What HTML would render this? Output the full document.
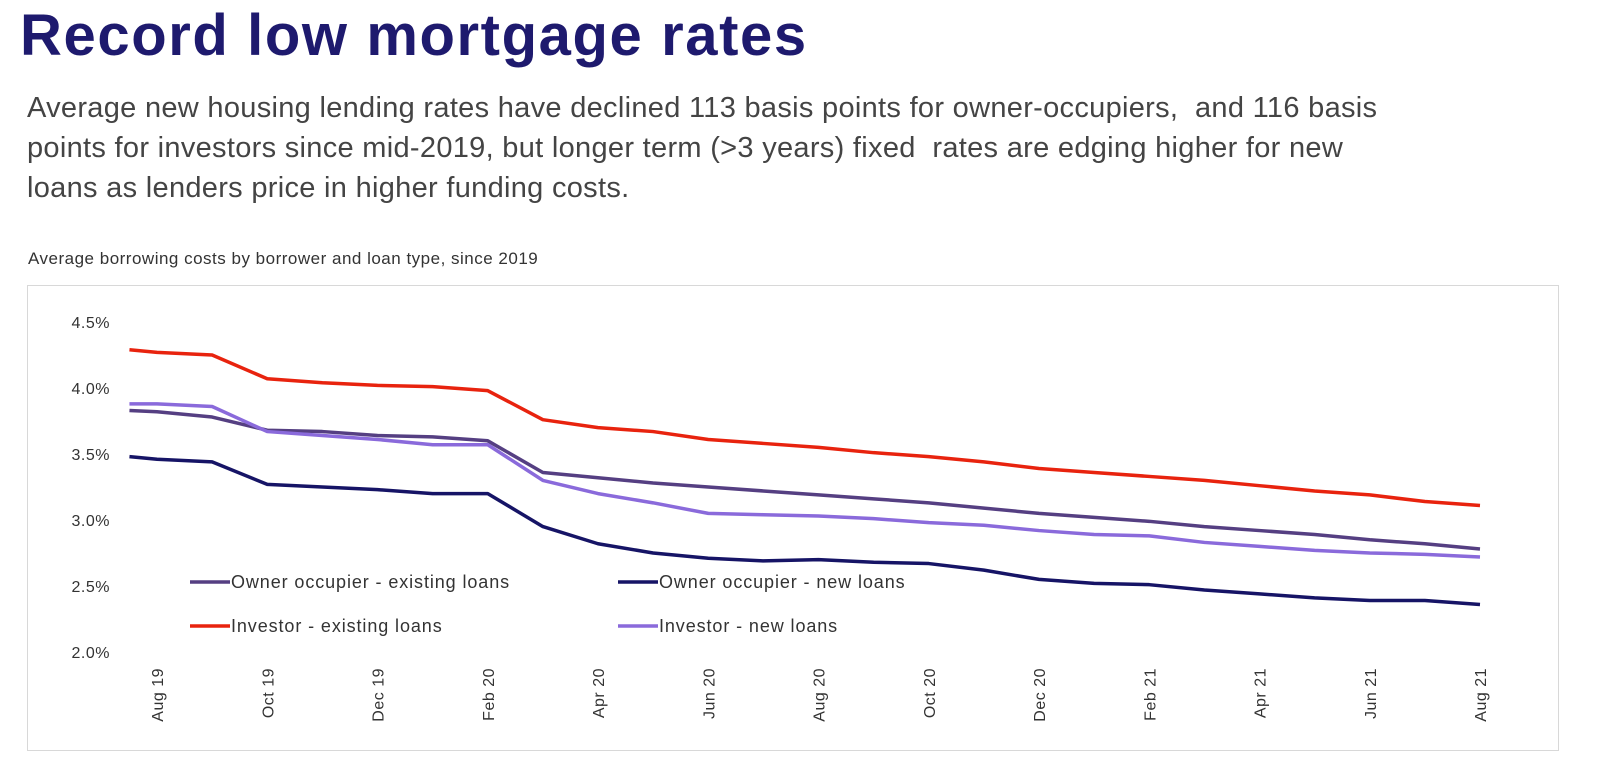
<!DOCTYPE html>
<html><head><meta charset="utf-8"><style>
body{margin:0;width:1613px;height:779px;background:#fff;overflow:hidden;font-family:"Liberation Sans",sans-serif;position:relative}
#title{position:absolute;left:20px;top:2px;font-size:58px;font-weight:bold;color:#1e1a6e;letter-spacing:1.6px;white-space:nowrap}
#sub{position:absolute;left:27px;top:88px;font-size:29px;line-height:40px;color:#444;white-space:nowrap;letter-spacing:0.3px}
#ct{position:absolute;left:28px;top:249px;font-size:17px;color:#333;letter-spacing:0.5px}
svg{position:absolute;left:0;top:0}
</style></head><body>
<div id="title">Record low mortgage rates</div>
<div id="sub">Average new housing lending rates have declined 113 basis points for owner-occupiers,&nbsp; and 116 basis<br>points for investors since mid-2019, but longer term (&gt;3 years) fixed&nbsp; rates are edging higher for new<br>loans as lenders price in higher funding costs.</div>
<div id="ct">Average borrowing costs by borrower and loan type, since 2019</div>
<svg id="chart" width="1613" height="779">
<rect x="27.5" y="285.5" width="1531" height="465" fill="none" stroke="#d8d8d8"/>
</svg>
<script>
const months=[-0.5,0,1,2,3,4,5,6,7,8,9,10,11,12,13,14,15,16,17,18,19,20,21,22,23,24];
const investorExisting=[4.29,4.27,4.25,4.07,4.04,4.02,4.01,3.98,3.76,3.70,3.67,3.61,3.58,3.55,3.51,3.48,3.44,3.39,3.36,3.33,3.30,3.26,3.22,3.19,3.14,3.11];
const ownerExisting=[3.83,3.82,3.78,3.68,3.67,3.64,3.63,3.60,3.36,3.32,3.28,3.25,3.22,3.19,3.16,3.13,3.09,3.05,3.02,2.99,2.95,2.92,2.89,2.85,2.82,2.78];
const investorNew=[3.88,3.88,3.86,3.67,3.64,3.61,3.57,3.57,3.30,3.20,3.13,3.05,3.04,3.03,3.01,2.98,2.96,2.92,2.89,2.88,2.83,2.80,2.77,2.75,2.74,2.72];
const ownerNew=[3.48,3.46,3.44,3.27,3.25,3.23,3.20,3.20,2.95,2.82,2.75,2.71,2.69,2.70,2.68,2.67,2.62,2.55,2.52,2.51,2.47,2.44,2.41,2.39,2.39,2.36];
const yTicks=[2.0,2.5,3.0,3.5,4.0,4.5];
const xLabels=["Aug 19","Oct 19","Dec 19","Feb 20","Apr 20","Jun 20","Aug 20","Oct 20","Dec 20","Feb 21","Apr 21","Jun 21","Aug 21"];
const xLabelMonths=[0,2,4,6,8,10,12,14,16,18,20,22,24];
const NS="http://www.w3.org/2000/svg";
const svg=document.getElementById('chart');
const X=m=>157+m*55.125;
const Y=v=>652-(v-2)*132;
function mk(t,a){const e=document.createElementNS(NS,t);for(const k in a)e.setAttribute(k,a[k]);svg.appendChild(e);return e;}
yTicks.forEach(v=>{const t=mk('text',{x:110,y:Y(v)+6,'text-anchor':'end','font-size':16,fill:'#333','letter-spacing':0.5});t.textContent=v.toFixed(1)+'%';

});
xLabels.forEach((l,i)=>{const x=X(xLabelMonths[i])+6;const t=mk('text',{x:x,y:668,'text-anchor':'end','font-size':16,fill:'#333','letter-spacing':0.5,transform:`rotate(-90 ${x} 668)`});t.textContent=l;

});
const series=[[ownerNew,'#161466','owner-new-loans-line'],[ownerExisting,'#553f82','owner-existing-loans-line'],[investorNew,'#8a6adb','investor-new-loans-line'],[investorExisting,'#e8230e','investor-existing-loans-line']];
series.forEach(s=>{const p=mk('polyline',{points:s[0].map((v,i)=>X(months[i])+','+Y(v)).join(' '),fill:'none',stroke:s[1],'stroke-width':3.5,'stroke-linejoin':'round'});

});
const legend=[['Owner occupier - existing loans','#553f82',190,582],['Owner occupier - new loans','#161466',618,582],['Investor - existing loans','#e8230e',190,626],['Investor - new loans','#8a6adb',618,626]];
legend.forEach(l=>{const g=mk('g',{});

const ln=document.createElementNS(NS,'line');ln.setAttribute('x1',l[2]);ln.setAttribute('x2',l[2]+40);ln.setAttribute('y1',l[3]);ln.setAttribute('y2',l[3]);ln.setAttribute('stroke',l[1]);ln.setAttribute('stroke-width',3.5);g.appendChild(ln);
const t=document.createElementNS(NS,'text');t.setAttribute('x',l[2]+41);t.setAttribute('y',l[3]+6);t.setAttribute('font-size',18);t.setAttribute('letter-spacing',0.9);t.setAttribute('fill','#333');t.textContent=l[0];g.appendChild(t);});
</script>
</body></html>
